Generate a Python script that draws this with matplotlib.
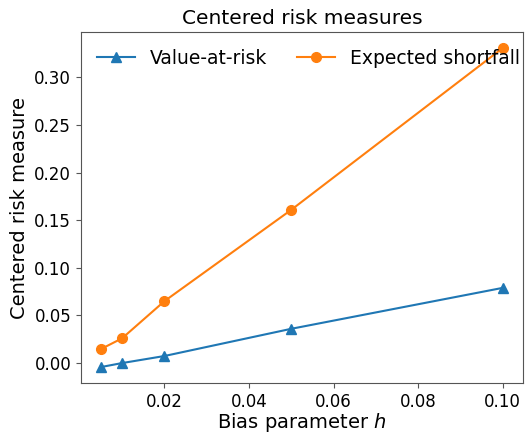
import matplotlib
matplotlib.use("Agg")
import matplotlib.pyplot as plt

h_values = [0.005, 0.01, 0.02, 0.05, 0.1]
value_at_risk = [-0.0042, 0.0, 0.0074, 0.036, 0.079]
expected_shortfall = [0.0147, 0.026, 0.065, 0.161, 0.331]

edge = "#555555"

fig = plt.figure(figsize=(5.25, 4.32), dpi=100)
ax = fig.add_axes([0.154, 0.1134, 0.842, 0.8125])

ax.plot(h_values, value_at_risk, marker="^", markersize=7, color="#1f77b4", label="Value-at-risk")
ax.plot(h_values, expected_shortfall, marker="o", markersize=7, color="#ff7f0e", label="Expected shortfall")

ax.set_title("Centered risk measures", fontsize=14.5)
ax.set_xlabel("Bias parameter $h$", fontsize=14, labelpad=0)
ax.set_ylabel("Centered risk measure", fontsize=14)
ax.tick_params(labelsize=12, color=edge)
for s in ax.spines.values():
    s.set_color(edge)
ax.legend(ncol=2, fontsize=13.5, frameon=False, loc="upper center",
          columnspacing=1.6, bbox_to_anchor=(0.515, 1.0))

fig.savefig("out.png", dpi=100)
